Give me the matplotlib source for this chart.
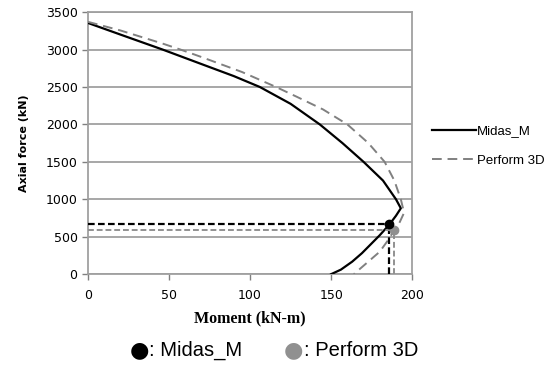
import matplotlib.pyplot as plt

# P-M interaction curves (moment kN-m, axial kN)
midas_m = [0, 20, 46, 72, 90, 106, 125, 143, 157, 170, 182, 190, 193,
           190, 186, 180, 174, 169, 163, 156, 150]
midas_p = [3355, 3200, 3000, 2790, 2645, 2500, 2275, 2000, 1750, 1500, 1250, 1000, 880,
           780, 665, 520, 389, 280, 167, 60, 0]

p3d_m = [0, 20, 46, 57, 70, 95, 116, 129, 145, 160, 173, 183, 189, 193, 195, 192, 189, 185, 180, 172, 164]
p3d_p = [3370, 3255, 3080, 3000, 2900, 2700, 2500, 2367, 2200, 2000, 1750, 1500, 1250, 1000, 820, 680, 590, 450, 300, 150, 0]

# design points
midas_pt = (186, 665)
p3d_pt = (189, 590)

fig = plt.figure(figsize=(5.57, 3.67), dpi=100)
ax = fig.add_axes([0.158, 0.253, 0.582, 0.714])

ax.plot(midas_m, midas_p, color='black', lw=1.6, label='Midas_M', zorder=3)
ax.plot(p3d_m, p3d_p, color='#808080', lw=1.4, ls=(0, (5, 3)), label='Perform 3D', zorder=3)

# dashed guide lines to the points
ax.plot([0, midas_pt[0]], [midas_pt[1]] * 2, color='black', lw=1.6, ls=(0, (3, 1.5)), zorder=4)
ax.plot([midas_pt[0]] * 2, [0, midas_pt[1]], color='black', lw=1.6, ls=(0, (3, 1.5)), zorder=4)
ax.plot([0, p3d_pt[0]], [p3d_pt[1]] * 2, color='#909090', lw=1.4, ls=(0, (3, 1.5)), zorder=4)
ax.plot([p3d_pt[0]] * 2, [0, p3d_pt[1]], color='#909090', lw=1.4, ls=(0, (3, 1.5)), zorder=4)
ax.plot(*p3d_pt, 'o', color='#909090', ms=6, zorder=5)
ax.plot(*midas_pt, 'o', color='black', ms=6, zorder=6)

ax.set_xlim(0, 200)
ax.set_ylim(0, 3500)
ax.set_xticks(range(0, 201, 50))
ax.set_yticks(range(0, 3501, 500))
ax.yaxis.grid(True, color='#a0a0a0', lw=1.3)
ax.set_axisbelow(True)
for s in ax.spines.values():
    s.set_color('#a0a0a0')
    s.set_linewidth(1.3)
ax.tick_params(direction='out', length=4, color='#808080', labelsize=9, width=1)
ax.tick_params(axis='x', pad=7)

ax.set_xlabel('Moment (kN-m)', family='Liberation Serif', fontweight='bold', fontsize=11.5, labelpad=6)
ax.set_ylabel('Axial force (kN)', fontweight='bold', fontsize=8, labelpad=12)

ax.legend(loc='center left', bbox_to_anchor=(1.05, 0.49), frameon=False, borderaxespad=0,
          borderpad=0.3, prop={'family': 'Liberation Sans', 'size': 9.5},
          handlelength=3.3, handletextpad=0.1, labelspacing=1.3)

fig.text(0.233, 0.03, '\u25cf', fontsize=16, color='black', ha='left', va='baseline')
fig.text(0.268, 0.03, ': Midas_M', fontsize=14.5, family='Liberation Sans', ha='left', va='baseline')
fig.text(0.51, 0.03, '\u25cf', fontsize=16, color='#909090', ha='left', va='baseline')
fig.text(0.545, 0.03, ': Perform 3D', fontsize=14.5, family='Liberation Sans', ha='left', va='baseline')

fig.savefig('out.png', dpi=100)
